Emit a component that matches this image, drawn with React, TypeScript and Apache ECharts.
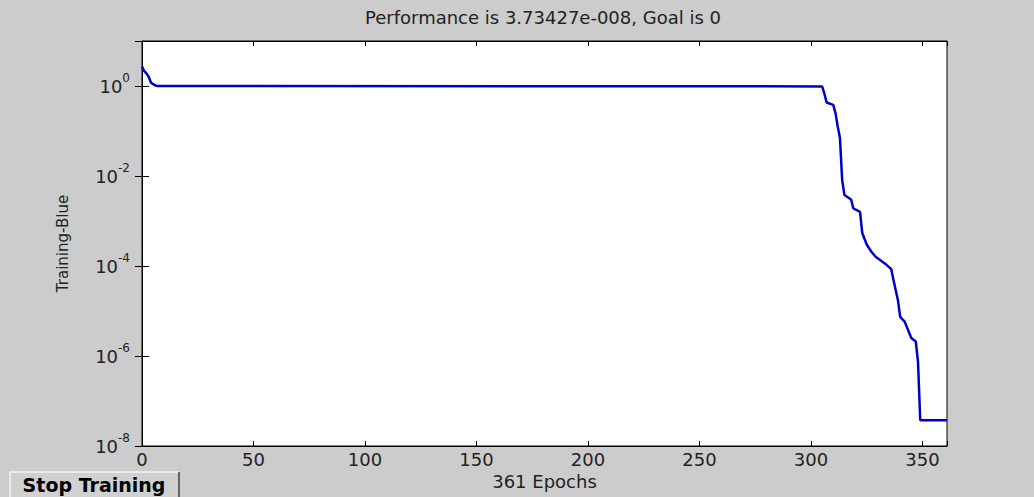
import React, { useEffect, useRef } from "react";
import * as echarts from "echarts";

const titleText = "Performance is 3.73427e-008, Goal is 0";
const xAxisName = "361 Epochs";
const yAxisName = "Training-Blue";
const buttonText = "Stop Training";

const epochs = [
  0, 1, 2, 3, 4, 5, 6, 7, 305, 306, 307, 310, 311, 312, 313, 314, 315, 318, 319,
  322, 323, 325, 327, 329, 334, 336, 337, 339, 340, 342, 345, 347, 348, 349, 361,
];
const performance = [
  2.69, 2.15, 1.9, 1.6, 1.2, 1.1, 1.03, 1.0, 0.98, 0.68, 0.43, 0.38, 0.25, 0.126,
  0.07, 0.008, 0.0038, 0.003, 0.0019, 0.0016, 0.00054, 0.0003, 0.00021, 0.00016,
  0.000105, 0.000085, 0.000049, 0.0000174, 0.0000074, 0.0000058, 0.0000025,
  0.0000021, 0.00000074, 3.73427e-8, 3.73427e-8,
];

const xMin = 0;
const xMax = 361;
const xStep = 50;
const yMin = 1e-8;
const yMax = 1e1;

const FONT = "DejaVu Sans";

export default function App() {
  const ref = useRef<HTMLDivElement>(null);
  useEffect(() => {
    if (!ref.current) return;
    const chart = echarts.init(ref.current, null, { renderer: "svg" });
    const data = epochs.map((e, i) => [e, performance[i]]);
    const xLabelFmt = (v: number) => (v % xStep === 0 ? String(v) : "");
    const yLabelFmt = (v: number) => {
      const e = Math.round(Math.log10(v));
      if (e % 2 !== 0) return "";
      return `{b|10}{s|${e}}`;
    };
    const gridLeft = 142;
    const gridTop = 41;
    const gridWidth = 805;
    const gridHeight = 405;
    const baseX = {
      type: "value",
      min: xMin,
      max: xMax,
      interval: xStep,
      splitLine: { show: false },
      axisLine: { show: true, lineStyle: { color: "#000", width: 1 } },
      axisTick: { show: true, inside: true, length: 5, lineStyle: { color: "#000" } },
    };
    const baseY = {
      type: "log",
      logBase: 10,
      min: yMin,
      max: yMax,
      interval: 2,
      splitLine: { show: false },
      axisLine: { show: true, lineStyle: { color: "#000", width: 1 } },
      axisTick: { show: true, inside: true, length: 7, lineStyle: { color: "#000" } },
    };
    chart.setOption({
      animation: false,
      backgroundColor: "#cccccc",
      grid: {
        left: gridLeft,
        top: gridTop,
        width: gridWidth,
        height: gridHeight,
        show: true,
        backgroundColor: "#ffffff",
        borderColor: "#000",
        borderWidth: 1,
      },
      xAxis: [
        {
          ...baseX,
          position: "bottom",
          name: xAxisName,
          nameLocation: "middle",
          nameGap: 23,
          nameTextStyle: { fontFamily: FONT, fontSize: 18, color: "#222" },
          axisLabel: {
            show: true,
            formatter: xLabelFmt,
            margin: 4,
            fontFamily: FONT,
            fontSize: 18,
            color: "#222",
          },
        },
        { ...baseX, position: "top", axisLabel: { show: false } },
      ],
      yAxis: [
        {
          ...baseY,
          position: "left",
          name: yAxisName,
          nameLocation: "middle",
          nameGap: 72,
          nameRotate: 90,
          nameTextStyle: { fontFamily: FONT, fontSize: 15, color: "#222" },
          axisLabel: {
            show: true,
            formatter: yLabelFmt,
            margin: 12,
            color: "#222",
            rich: {
              b: { fontFamily: FONT, fontSize: 18, color: "#222" },
              s: { fontFamily: FONT, fontSize: 12, color: "#222", padding: [0, 0, 16, 0] },
            },
          },
        },
        { ...baseY, position: "right", axisLabel: { show: false } },
      ],
      series: [
        {
          type: "line",
          xAxisIndex: 0,
          yAxisIndex: 0,
          data,
          showSymbol: false,
          symbol: "none",
          lineStyle: { color: "#0000c8", width: 2.5 },
          clip: true,
        },
      ],
      graphic: [
        {
          type: "text",
          x: 543,
          y: 17,
          style: {
            text: titleText,
            textAlign: "center",
            textVerticalAlign: "middle",
            fontFamily: FONT,
            fontSize: 18,
            fill: "#222",
          },
        },
        {
          type: "group",
          children: [
            { type: "rect", shape: { x: 10, y: 472, width: 169, height: 25 }, style: { fill: "#d0d0d0" } },
            { type: "polyline", shape: { points: [[10, 497], [10, 472], [179, 472]] }, style: { stroke: "#f4f4f4", lineWidth: 1.5, fill: null } },
            { type: "polyline", shape: { points: [[179, 472], [179, 497]] }, style: { stroke: "#404040", lineWidth: 1.5, fill: null } },
            {
              type: "text",
              x: 94,
              y: 485,
              style: {
                text: buttonText,
                textAlign: "center",
                textVerticalAlign: "middle",
                fontFamily: FONT,
                fontWeight: "bold",
                fontSize: 19,
                fill: "#000",
              },
            },
          ],
        },
      ],
    });
    return () => chart.dispose();
  }, []);
  return (
    <div
      ref={ref}
      style={{ position: "absolute", left: 0, top: 0, width: 1034, height: 497 }}
    />
  );
}
